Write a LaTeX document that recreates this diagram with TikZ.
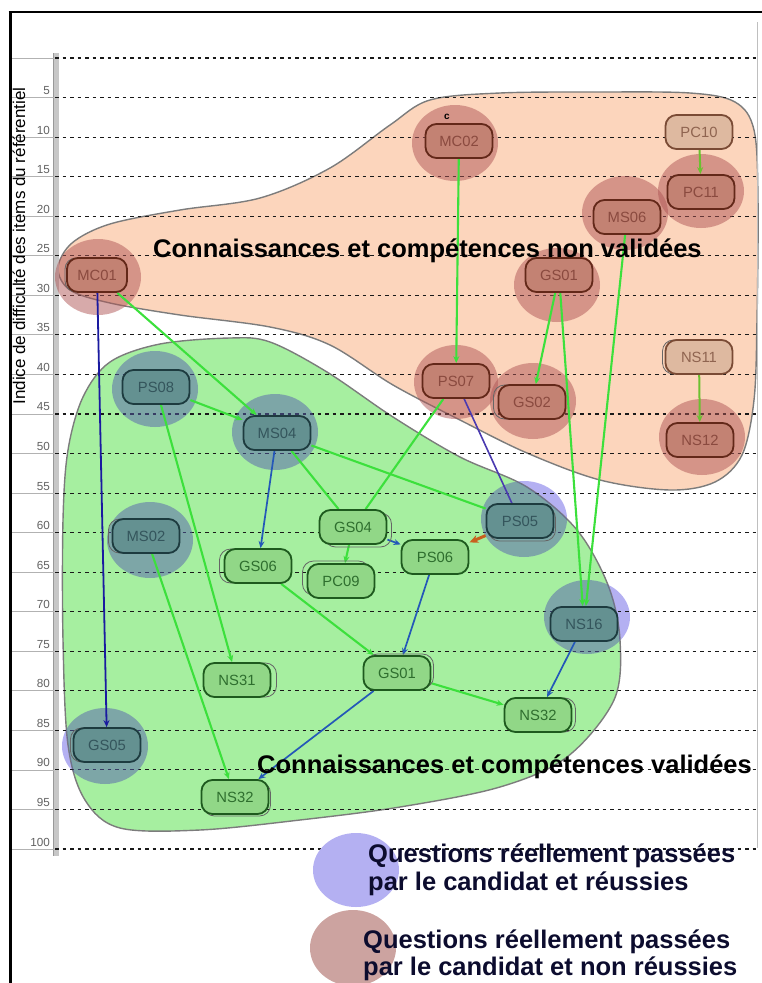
\documentclass[tikz,border=0pt]{standalone}
\usepackage{fontspec}
\setmainfont{Liberation Sans}
\usetikzlibrary{arrows.meta,shadows}
\pgfdeclarelayer{blobs}
\pgfdeclarelayer{grid}
\pgfdeclarelayer{halos}
\pgfdeclarelayer{edges}
\pgfdeclarelayer{fore}
\pgfsetlayers{blobs,grid,halos,edges,main,fore}
\definecolor{peach}{HTML}{FCD5BC}
\definecolor{lgreen}{HTML}{A6EFA0}
\definecolor{blobedge}{HTML}{7C7C7C}
\definecolor{redhalo}{RGB}{175,85,85}
\definecolor{bluehalo}{RGB}{85,95,175}
\definecolor{purphalo}{HTML}{B4B0F2}
\definecolor{legbrown}{HTML}{CCA3A0}
\definecolor{rfill}{HTML}{C38273}
\definecolor{rdraw}{HTML}{632819}
\definecolor{rtext}{HTML}{8A4A3F}
\definecolor{tfill}{HTML}{DEB9A0}
\definecolor{tdraw}{HTML}{7A4B35}
\definecolor{ttext}{HTML}{8F6450}
\definecolor{bfill}{HTML}{649191}
\definecolor{bdraw}{HTML}{1D3B3F}
\definecolor{btext}{HTML}{34555C}
\definecolor{gfill}{HTML}{91D787}
\definecolor{gdraw}{HTML}{1E5A1E}
\definecolor{gtext}{HTML}{2E6E2E}
\definecolor{egreen}{HTML}{3CE03C}
\definecolor{eolive}{HTML}{6CC030}
\definecolor{eblue}{HTML}{2458B8}
\definecolor{edblue}{HTML}{1A1AA0}
\definecolor{epurp}{HTML}{4A3AB0}
\definecolor{eorange}{HTML}{C8601E}
\definecolor{legtext}{HTML}{0C0C2E}
\begin{document}
\begin{tikzpicture}[x=1pt,y=-1pt,
  itm/.style={rectangle, rounded corners=11pt, minimum width=67pt, minimum height=34pt, line width=1.8pt, inner sep=0pt, font=\fontsize{14.8}{15}\selectfont},
  rednode/.style={itm, fill=rfill, draw=rdraw, text=rtext},
  tannode/.style={itm, fill=tfill, draw=tdraw, text=ttext},
  bluenode/.style={itm, fill=bfill, draw=bdraw, text=btext},
  grnnode/.style={itm, fill=gfill, draw=gdraw, text=gtext},
  ghost/.style 2 args={general shadow={shadow xshift=#1pt, shadow yshift=#2pt, draw=black!60, line width=0.8pt}},
  rhalo/.style={fill=redhalo, fill opacity=0.5},
  bhalo/.style={fill=bluehalo, fill opacity=0.5},
  phalo/.style={fill=purphalo},
  blob/.style={draw=blobedge, line width=1.4pt},
  gridline/.style={black!90, line width=1.1pt, dash pattern=on 3.5pt off 4pt},
  ticklbl/.style={font=\fontsize{11.7}{12}\selectfont, text=black!62, inner sep=0pt},
  arr/.style={-{Stealth[length=7pt,width=6pt]}},
  ge/.style={egreen, line width=2.1pt},
  be/.style={eblue, line width=1.7pt},
  bigtxt/.style={font=\bfseries\fontsize{25.5}{28}\selectfont, inner sep=0pt},
  legtxt/.style={bigtxt, text=legtext},
]
\useasboundingbox (0,0) rectangle (762,983);

% blobs
\begin{pgfonlayer}{blobs}
\draw[blob, fill=peach] plot[smooth cycle, tension=0.55] coordinates {
 (58,268) (72,243) (110,224) (180,210) (260,198) (330,168) (390,125) (430,100)
 (500,93) (600,92) (690,93) (735,102) (754,130) (758,200) (757,320) (754,400)
 (742,455) (715,482) (670,490) (600,480) (527,453) (460,420) (393,385) (330,345)
 (270,327) (180,315) (110,303) (70,290)};
% halo parts lying outside the green area
\fill[phalo] (524,519) ellipse [x radius=43, y radius=38];
\fill[phalo] (587,617) ellipse [x radius=43, y radius=37];
\fill[phalo] (105,746) ellipse [x radius=43, y radius=38];
\draw[blob, fill=lgreen] plot[smooth cycle, tension=0.55] coordinates {
 (160,344) (230,338) (270,342) (327,372) (393,417) (460,457) (527,487) (577,530)
 (608,585) (620,640) (614,700) (567,757) (500,787) (400,807) (300,820) (200,830)
 (120,828) (85,800) (68,745) (63,640) (63,520) (68,450) (83,397) (110,362)};
\end{pgfonlayer}

% grid and axis
\begin{pgfonlayer}{grid}
\fill[black!22] (53,53) rectangle (59,856);
\draw[black!40, line width=0.8pt] (53,53) -- (53,856);
\draw[black!25, line width=0.8pt] (757,22) -- (757,848);
\foreach \k in {0,...,20} {
  \draw[black!30, line width=0.8pt] (12,{58+39.55*\k}) -- (54,{58+39.55*\k});
  \draw[gridline] (55,{58+39.55*\k}) -- (757,{58+39.55*\k});
}
\foreach \k in {1,...,20} {
  \pgfmathtruncatemacro{\v}{5*\k}
  \node[ticklbl, anchor=base east] (t\k) at (50,{55+39.55*\k}) {\v};
}
\end{pgfonlayer}

% halos
\begin{pgfonlayer}{halos}
\fill[rhalo] (98,277) ellipse [x radius=43, y radius=38];
\fill[rhalo] (455,143) ellipse [x radius=43, y radius=38];
\fill[rhalo] (701,191) ellipse [x radius=43, y radius=37];
\fill[rhalo] (625,213) ellipse [x radius=43, y radius=37];
\fill[rhalo] (557,285) ellipse [x radius=43, y radius=37];
\fill[rhalo] (456,382) ellipse [x radius=42, y radius=37];
\fill[rhalo] (533,401) ellipse [x radius=43, y radius=38];
\fill[rhalo] (702,437) ellipse [x radius=43, y radius=38];
\fill[bhalo] (155,389) ellipse [x radius=43, y radius=38];
\fill[bhalo] (275,432) ellipse [x radius=43, y radius=38];
\fill[bhalo] (150,540) ellipse [x radius=43, y radius=38];
\begin{scope}
\clip plot[smooth cycle, tension=0.55] coordinates {
 (160,344) (230,338) (270,342) (327,372) (393,417) (460,457) (527,487) (577,530)
 (608,585) (620,640) (614,700) (567,757) (500,787) (400,807) (300,820) (200,830)
 (120,828) (85,800) (68,745) (63,640) (63,520) (68,450) (83,397) (110,362)};
\fill[bhalo] (524,519) ellipse [x radius=43, y radius=38];
\fill[bhalo] (587,617) ellipse [x radius=43, y radius=37];
\fill[bhalo] (105,746) ellipse [x radius=43, y radius=38];
\end{scope}
\end{pgfonlayer}

% items
\node[rednode] (mc02) at (459,141) {MC02};
\node[tannode] (pc10) at (699,132) {PC10};
\node[rednode] (pc11) at (701,192) {PC11};
\node[rednode] (ms06) at (627,217) {MS06};
\node[rednode] (gs01t) at (559,275) {GS01};
\node[rednode, minimum width=60pt, ghost={-2}{0}] (mc01) at (97,275) {MC01};
\node[rednode] (ps07) at (456,381) {PS07};
\node[rednode, ghost={-5}{0}] (gs02) at (532,402) {GS02};
\node[tannode, ghost={-3}{0}] (ns11) at (699,357) {NS11};
\node[rednode] (ns12) at (700,440) {NS12};
\node[bluenode] (ps08) at (156,387) {PS08};
\node[bluenode] (ms04) at (277,433) {MS04};
\node[bluenode, ghost={-4}{0}] (ms02) at (146,536) {MS02};
\node[grnnode, ghost={5}{-3}] (gs04) at (353,527) {GS04};
\node[bluenode, ghost={2}{-3}] (ps05) at (520,521) {PS05};
\node[grnnode] (ps06) at (435,557) {PS06};
\node[grnnode, ghost={-5}{0}] (gs06) at (258,566) {GS06};
\node[grnnode, ghost={-5}{3}] (pc09) at (341,581) {PC09};
\node[bluenode] (ns16) at (584,624) {NS16};
\node[grnnode, ghost={6}{0}] (ns31) at (237,680) {NS31};
\node[grnnode, ghost={3}{2}] (gs01b) at (397,673) {GS01};
\node[grnnode, ghost={4}{0}] (ns32r) at (538,715) {NS32};
\node[bluenode, ghost={-3}{0}] (gs05) at (107,745) {GS05};
\node[grnnode, ghost={2}{-2}] (ns32b) at (235,797) {NS32};

\node[font=\bfseries\fontsize{10}{10}\selectfont, inner sep=0pt] (cmc02) at (447,117) {c};

% connectors
\begin{pgfonlayer}{edges}
\draw[ge,arr] (mc02) -- (ps07);
\draw[eolive, line width=2pt, arr] (pc10) -- (pc11);
\draw[eolive, line width=2pt, arr] (ns11) -- (ns12);
\draw[ge,arr] (gs01t) -- (gs02);
\draw[ge,arr] (gs01t) -- (ns16);
\draw[ge,arr] (ms06) -- (ns16);
\draw[ge,arr] (mc01) -- (ms04);
\draw[ge,arr] (ps08) -- (ms04);
\draw[ge,arr] (ps08) -- (ns31);
\draw[ge] (ms04) -- (gs04);
\draw[ge] (ms04) -- (ps05);
\draw[ge] (ps07) -- (gs04);
\draw[ge,arr] (gs04) -- (pc09);
\draw[ge,arr] (gs06) -- (gs01b);
\draw[ge,arr] (ms02) -- (ns32b);
\draw[ge,arr] (gs01b) -- (ns32r);
\draw[edblue, line width=1.8pt, arr] (mc01) -- (gs05);
\draw[be,arr] (ms04) -- (gs06);
\draw[be,arr] (gs04) -- (ps06);
\draw[be,arr] (ps06) -- (gs01b);
\draw[be,arr] (gs01b) -- (ns32b);
\draw[be,arr] (ns16) -- (ns32r);
\draw[epurp, line width=1.6pt] (ps07) -- (ps05);
\draw[eorange, line width=3pt, -{Stealth[length=9pt,width=8pt]}] (ps05) -- (ps06);
\end{pgfonlayer}

% legend
\fill[purphalo] (356,870) ellipse [x radius=43, y radius=37];
\fill[legbrown] (353,948) ellipse [x radius=43, y radius=38];

\begin{pgfonlayer}{fore}
\node[bigtxt, anchor=base west] (nonval) at (153,257) {Connaissances et compétences non validées};
\node[bigtxt, anchor=base west] (val) at (257,773) {Connaissances et compétences validées};
\node[legtxt, anchor=base west] (l1a) at (368,862) {Questions réellement passées};
\node[legtxt, anchor=base west] (l1b) at (368,890) {par le candidat et réussies};
\node[legtxt, anchor=base west] (l2a) at (363,948) {Questions réellement passées};
\node[legtxt, anchor=base west] (l2b) at (363,975) {par le candidat et non réussies};
\node[rotate=90, anchor=base, font=\fontsize{17}{18}\selectfont, inner sep=0pt] (ytitle) at (25,246) {Indice de difficulté des items du référentiel};
% frame
\draw[black, line width=3pt] (10,11) -- (10,983);
\draw[black, line width=2.5pt] (8.5,12) -- (762,12);
\end{pgfonlayer}
\end{tikzpicture}
\end{document}
